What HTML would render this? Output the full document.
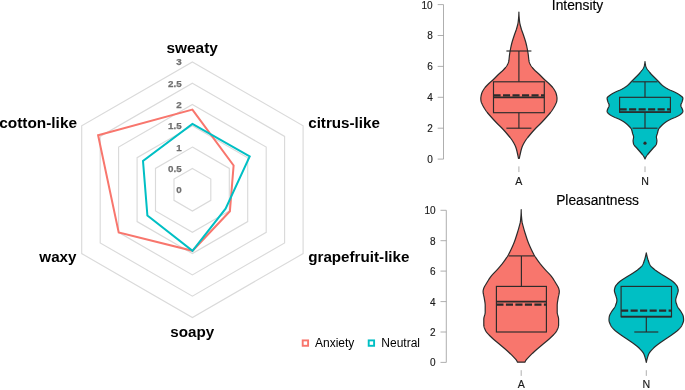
<!DOCTYPE html>
<html lang="en"><head><meta charset="utf-8"><title>Odor ratings</title>
<style>
html,body{margin:0;padding:0;background:#fff;}
body{width:685px;height:390px;overflow:hidden;font-family:"Liberation Sans",sans-serif;}
svg{display:block;}
.lab{font-family:"Liberation Sans",sans-serif;font-weight:bold;font-size:15.2px;fill:#000;}
.num{font-family:"Liberation Sans",sans-serif;font-weight:bold;font-size:9.8px;fill:#707070;stroke:#707070;stroke-width:0.25px;text-anchor:end;}
.leg{font-family:"Liberation Sans",sans-serif;font-size:12px;fill:#000;}
.ttl{font-family:"Liberation Sans",sans-serif;font-size:13.8px;fill:#000;text-anchor:middle;stroke:#000;stroke-width:0.15px;}
.ax{font-family:"Liberation Sans",sans-serif;font-size:10px;fill:#1a1a1a;stroke:#1a1a1a;stroke-width:0.15px;}
</style></head><body>
<svg width="685" height="390" viewBox="0 0 685 390">
<rect width="685" height="390" fill="#ffffff"/>
<g fill="none" stroke="#dadada" stroke-width="1.15">
<polygon points="192.4,168.4 210.8,179.0 210.8,200.3 192.4,211.0 174.0,200.3 174.0,179.0"/>
<polygon points="192.4,147.1 229.3,168.4 229.3,211.0 192.4,232.3 155.5,211.0 155.5,168.4"/>
<polygon points="192.4,125.8 247.7,157.8 247.7,221.6 192.4,253.6 137.1,221.6 137.1,157.7"/>
<polygon points="192.4,104.5 266.2,147.1 266.2,232.3 192.4,274.9 118.6,232.3 118.6,147.1"/>
<polygon points="192.4,83.2 284.6,136.4 284.6,242.9 192.4,296.2 100.2,242.9 100.2,136.4"/>
<polygon points="192.4,61.9 303.1,125.8 303.1,253.6 192.4,317.5 81.7,253.6 81.7,125.8"/>
</g>
<text class="num" x="181.6" y="193.1">0</text>
<text class="num" x="181.6" y="171.8">0.5</text>
<text class="num" x="181.6" y="150.5">1</text>
<text class="num" x="181.6" y="129.2">1.5</text>
<text class="num" x="181.6" y="107.9">2</text>
<text class="num" x="181.6" y="86.6">2.5</text>
<text class="num" x="181.6" y="65.3">3</text>
<polygon fill="none" stroke="#F8766D" stroke-width="2.0" stroke-linejoin="miter" points="192.4,109.6 233.6,165.5 229.9,211.2 192.5,250.8 118.7,232.4 98.1,135.3"/>
<polygon fill="none" stroke="#00BFC4" stroke-width="2.0" stroke-linejoin="miter" points="192.4,123.9 249.7,156.5 225.6,208.6 192.5,250.8 147.4,215.5 143.0,161.0"/>
<text class="lab" style="font-size:15.4px" x="192.2" y="52.8" text-anchor="middle">sweaty</text>
<text class="lab" x="308.2" y="128.1">citrus-like</text>
<text class="lab" x="308.2" y="261.6">grapefruit-like</text>
<text class="lab" x="192.2" y="336.6" text-anchor="middle">soapy</text>
<text class="lab" x="76.5" y="261.6" text-anchor="end">waxy</text>
<text class="lab" style="font-size:15.4px" x="77.0" y="128.1" text-anchor="end">cotton-like</text>
<rect x="302.7" y="340.4" width="5.4" height="5.4" fill="#fff" stroke="#F8766D" stroke-width="1.9"/>
<text class="leg" x="315" y="346.7">Anxiety</text>
<rect x="368.7" y="340.4" width="5.4" height="5.4" fill="#fff" stroke="#00BFC4" stroke-width="1.9"/>
<text class="leg" x="381.3" y="346.7">Neutral</text>
<g stroke="#9a9a9a" stroke-width="0.8" fill="none">
<line x1="443.5" y1="4.6" x2="443.5" y2="159.1"/>
<line x1="437.7" y1="159.1" x2="443.5" y2="159.1"/>
<line x1="437.7" y1="128.2" x2="443.5" y2="128.2"/>
<line x1="437.7" y1="97.3" x2="443.5" y2="97.3"/>
<line x1="437.7" y1="66.4" x2="443.5" y2="66.4"/>
<line x1="437.7" y1="35.5" x2="443.5" y2="35.5"/>
<line x1="437.7" y1="4.6" x2="443.5" y2="4.6"/>
</g>
<text class="ax" text-anchor="end" x="432.7" y="163.0">0</text>
<text class="ax" text-anchor="end" x="432.7" y="132.1">2</text>
<text class="ax" text-anchor="end" x="432.7" y="101.2">4</text>
<text class="ax" text-anchor="end" x="432.7" y="70.3">6</text>
<text class="ax" text-anchor="end" x="432.7" y="39.4">8</text>
<text class="ax" text-anchor="end" x="432.7" y="8.5">10</text>
<text class="ttl" x="577.5" y="9.6">Intensity</text>
<path d="M518.90,12.00 L518.90,12.50 L518.89,13.00 L518.88,13.50 L518.86,14.00 L518.84,14.50 L518.82,15.00 L518.79,15.50 L518.75,16.00 L518.72,16.50 L518.68,17.00 L518.64,17.50 L518.60,18.00 L518.55,18.50 L518.50,19.00 L518.45,19.50 L518.40,20.00 L518.34,20.50 L518.29,21.00 L518.23,21.50 L518.18,22.00 L518.11,22.50 L518.03,23.00 L517.93,23.50 L517.83,24.00 L517.72,24.50 L517.60,25.00 L517.47,25.50 L517.34,26.00 L517.20,26.50 L517.06,27.00 L516.92,27.50 L516.78,28.00 L516.64,28.50 L516.49,29.00 L516.34,29.50 L516.17,30.00 L515.99,30.50 L515.81,31.00 L515.63,31.50 L515.44,32.00 L515.26,32.50 L515.07,33.00 L514.89,33.50 L514.71,34.00 L514.53,34.50 L514.37,35.00 L514.20,35.50 L514.04,36.00 L513.87,36.50 L513.70,37.00 L513.54,37.50 L513.37,38.00 L513.21,38.50 L513.04,39.00 L512.88,39.50 L512.73,40.00 L512.57,40.50 L512.42,41.00 L512.27,41.50 L512.13,42.00 L511.99,42.50 L511.85,43.00 L511.73,43.50 L511.60,44.00 L511.48,44.50 L511.36,45.00 L511.25,45.50 L511.13,46.00 L511.02,46.50 L510.92,47.00 L510.81,47.50 L510.71,48.00 L510.61,48.50 L510.51,49.00 L510.41,49.50 L510.32,50.00 L510.23,50.50 L510.14,51.00 L510.05,51.50 L509.96,52.00 L509.87,52.50 L509.79,53.00 L509.71,53.50 L509.64,54.00 L509.57,54.50 L509.50,55.00 L509.44,55.50 L509.39,56.00 L509.34,56.50 L509.29,57.00 L509.24,57.50 L509.19,58.00 L509.13,58.50 L509.08,59.00 L509.02,59.50 L508.96,60.00 L508.89,60.50 L508.80,61.00 L508.69,61.50 L508.55,62.00 L508.38,62.50 L508.19,63.00 L507.98,63.50 L507.75,64.00 L507.50,64.50 L507.25,65.00 L506.98,65.50 L506.67,66.00 L506.32,66.50 L505.94,67.00 L505.54,67.50 L505.12,68.00 L504.68,68.50 L504.24,69.00 L503.78,69.50 L503.32,70.00 L502.82,70.50 L502.30,71.00 L501.75,71.50 L501.18,72.00 L500.61,72.50 L500.04,73.00 L499.48,73.50 L498.92,74.00 L498.40,74.50 L497.88,75.00 L497.38,75.50 L496.89,76.00 L496.40,76.50 L495.91,77.00 L495.42,77.50 L494.93,78.00 L494.43,78.50 L493.92,79.00 L493.40,79.50 L492.86,80.00 L492.31,80.50 L491.74,81.00 L491.16,81.50 L490.58,82.00 L490.01,82.50 L489.45,83.00 L488.91,83.50 L488.40,84.00 L487.90,84.50 L487.41,85.00 L486.92,85.50 L486.43,86.00 L485.96,86.50 L485.51,87.00 L485.09,87.50 L484.69,88.00 L484.33,88.50 L484.01,89.00 L483.68,89.50 L483.37,90.00 L483.07,90.50 L482.78,91.00 L482.51,91.50 L482.27,92.00 L482.04,92.50 L481.85,93.00 L481.68,93.50 L481.55,94.00 L481.42,94.50 L481.30,95.00 L481.19,95.50 L481.08,96.00 L480.99,96.50 L480.91,97.00 L480.85,97.50 L480.81,98.00 L480.80,98.50 L480.81,99.00 L480.84,99.50 L480.88,100.00 L480.94,100.50 L481.00,101.00 L481.10,101.50 L481.25,102.00 L481.44,102.50 L481.65,103.00 L481.88,103.50 L482.10,104.00 L482.32,104.50 L482.56,105.00 L482.81,105.50 L483.06,106.00 L483.33,106.50 L483.61,107.00 L483.90,107.50 L484.20,108.00 L484.50,108.50 L484.82,109.00 L485.14,109.50 L485.47,110.00 L485.80,110.50 L486.15,111.00 L486.51,111.50 L486.90,112.00 L487.29,112.50 L487.70,113.00 L488.12,113.50 L488.55,114.00 L488.99,114.50 L489.43,115.00 L489.87,115.50 L490.32,116.00 L490.76,116.50 L491.20,117.00 L491.64,117.50 L492.08,118.00 L492.53,118.50 L492.98,119.00 L493.43,119.50 L493.89,120.00 L494.35,120.50 L494.82,121.00 L495.29,121.50 L495.76,122.00 L496.24,122.50 L496.72,123.00 L497.20,123.50 L497.70,124.00 L498.20,124.50 L498.72,125.00 L499.25,125.50 L499.77,126.00 L500.29,126.50 L500.81,127.00 L501.31,127.50 L501.80,128.00 L502.27,128.50 L502.74,129.00 L503.21,129.50 L503.67,130.00 L504.13,130.50 L504.58,131.00 L505.03,131.50 L505.47,132.00 L505.90,132.50 L506.34,133.00 L506.76,133.50 L507.18,134.00 L507.60,134.50 L508.01,135.00 L508.43,135.50 L508.85,136.00 L509.26,136.50 L509.67,137.00 L510.08,137.50 L510.47,138.00 L510.86,138.50 L511.24,139.00 L511.60,139.50 L511.95,140.00 L512.28,140.50 L512.60,141.00 L512.90,141.50 L513.20,142.00 L513.50,142.50 L513.79,143.00 L514.07,143.50 L514.34,144.00 L514.60,144.50 L514.85,145.00 L515.09,145.50 L515.31,146.00 L515.52,146.50 L515.72,147.00 L515.90,147.50 L516.07,148.00 L516.22,148.50 L516.37,149.00 L516.51,149.50 L516.65,150.00 L516.77,150.50 L516.90,151.00 L517.02,151.50 L517.13,152.00 L517.24,152.50 L517.36,153.00 L517.47,153.50 L517.58,154.00 L517.69,154.50 L517.80,155.00 L517.90,155.50 L518.01,156.00 L518.11,156.50 L518.20,157.00 L518.30,157.50 L518.39,158.00 L518.48,158.50 L519.32,158.50 L519.41,158.00 L519.50,157.50 L519.60,157.00 L519.69,156.50 L519.79,156.00 L519.90,155.50 L520.00,155.00 L520.11,154.50 L520.22,154.00 L520.33,153.50 L520.44,153.00 L520.56,152.50 L520.67,152.00 L520.78,151.50 L520.90,151.00 L521.03,150.50 L521.15,150.00 L521.29,149.50 L521.43,149.00 L521.58,148.50 L521.73,148.00 L521.90,147.50 L522.08,147.00 L522.28,146.50 L522.49,146.00 L522.71,145.50 L522.95,145.00 L523.20,144.50 L523.46,144.00 L523.73,143.50 L524.01,143.00 L524.30,142.50 L524.60,142.00 L524.90,141.50 L525.20,141.00 L525.52,140.50 L525.85,140.00 L526.20,139.50 L526.56,139.00 L526.94,138.50 L527.33,138.00 L527.72,137.50 L528.13,137.00 L528.54,136.50 L528.95,136.00 L529.37,135.50 L529.79,135.00 L530.20,134.50 L530.62,134.00 L531.04,133.50 L531.46,133.00 L531.90,132.50 L532.33,132.00 L532.77,131.50 L533.22,131.00 L533.67,130.50 L534.13,130.00 L534.59,129.50 L535.06,129.00 L535.53,128.50 L536.00,128.00 L536.49,127.50 L536.99,127.00 L537.51,126.50 L538.03,126.00 L538.55,125.50 L539.08,125.00 L539.60,124.50 L540.10,124.00 L540.60,123.50 L541.08,123.00 L541.56,122.50 L542.04,122.00 L542.51,121.50 L542.98,121.00 L543.45,120.50 L543.91,120.00 L544.37,119.50 L544.82,119.00 L545.27,118.50 L545.72,118.00 L546.16,117.50 L546.60,117.00 L547.04,116.50 L547.48,116.00 L547.93,115.50 L548.37,115.00 L548.81,114.50 L549.25,114.00 L549.68,113.50 L550.10,113.00 L550.51,112.50 L550.90,112.00 L551.29,111.50 L551.65,111.00 L552.00,110.50 L552.33,110.00 L552.66,109.50 L552.98,109.00 L553.30,108.50 L553.60,108.00 L553.90,107.50 L554.19,107.00 L554.47,106.50 L554.74,106.00 L554.99,105.50 L555.24,105.00 L555.48,104.50 L555.70,104.00 L555.92,103.50 L556.15,103.00 L556.36,102.50 L556.55,102.00 L556.70,101.50 L556.80,101.00 L556.86,100.50 L556.92,100.00 L556.96,99.50 L556.99,99.00 L557.00,98.50 L556.99,98.00 L556.95,97.50 L556.89,97.00 L556.81,96.50 L556.72,96.00 L556.61,95.50 L556.50,95.00 L556.38,94.50 L556.25,94.00 L556.12,93.50 L555.95,93.00 L555.76,92.50 L555.53,92.00 L555.29,91.50 L555.02,91.00 L554.73,90.50 L554.43,90.00 L554.12,89.50 L553.79,89.00 L553.47,88.50 L553.11,88.00 L552.71,87.50 L552.29,87.00 L551.84,86.50 L551.37,86.00 L550.88,85.50 L550.39,85.00 L549.90,84.50 L549.40,84.00 L548.89,83.50 L548.35,83.00 L547.79,82.50 L547.22,82.00 L546.64,81.50 L546.06,81.00 L545.49,80.50 L544.94,80.00 L544.40,79.50 L543.88,79.00 L543.37,78.50 L542.87,78.00 L542.38,77.50 L541.89,77.00 L541.40,76.50 L540.91,76.00 L540.42,75.50 L539.92,75.00 L539.40,74.50 L538.88,74.00 L538.32,73.50 L537.76,73.00 L537.19,72.50 L536.62,72.00 L536.05,71.50 L535.50,71.00 L534.98,70.50 L534.48,70.00 L534.02,69.50 L533.56,69.00 L533.12,68.50 L532.68,68.00 L532.26,67.50 L531.86,67.00 L531.48,66.50 L531.13,66.00 L530.82,65.50 L530.55,65.00 L530.30,64.50 L530.05,64.00 L529.82,63.50 L529.61,63.00 L529.42,62.50 L529.25,62.00 L529.11,61.50 L529.00,61.00 L528.91,60.50 L528.84,60.00 L528.78,59.50 L528.72,59.00 L528.67,58.50 L528.61,58.00 L528.56,57.50 L528.51,57.00 L528.46,56.50 L528.41,56.00 L528.36,55.50 L528.30,55.00 L528.23,54.50 L528.16,54.00 L528.09,53.50 L528.01,53.00 L527.93,52.50 L527.84,52.00 L527.75,51.50 L527.66,51.00 L527.57,50.50 L527.48,50.00 L527.39,49.50 L527.29,49.00 L527.19,48.50 L527.09,48.00 L526.99,47.50 L526.88,47.00 L526.78,46.50 L526.67,46.00 L526.55,45.50 L526.44,45.00 L526.32,44.50 L526.20,44.00 L526.07,43.50 L525.95,43.00 L525.81,42.50 L525.67,42.00 L525.53,41.50 L525.38,41.00 L525.23,40.50 L525.07,40.00 L524.92,39.50 L524.76,39.00 L524.59,38.50 L524.43,38.00 L524.26,37.50 L524.10,37.00 L523.93,36.50 L523.76,36.00 L523.60,35.50 L523.43,35.00 L523.27,34.50 L523.09,34.00 L522.91,33.50 L522.73,33.00 L522.54,32.50 L522.36,32.00 L522.17,31.50 L521.99,31.00 L521.81,30.50 L521.63,30.00 L521.46,29.50 L521.31,29.00 L521.16,28.50 L521.02,28.00 L520.88,27.50 L520.74,27.00 L520.60,26.50 L520.46,26.00 L520.33,25.50 L520.20,25.00 L520.08,24.50 L519.97,24.00 L519.87,23.50 L519.77,23.00 L519.69,22.50 L519.62,22.00 L519.57,21.50 L519.51,21.00 L519.46,20.50 L519.40,20.00 L519.35,19.50 L519.30,19.00 L519.25,18.50 L519.20,18.00 L519.16,17.50 L519.12,17.00 L519.08,16.50 L519.05,16.00 L519.01,15.50 L518.98,15.00 L518.96,14.50 L518.94,14.00 L518.92,13.50 L518.91,13.00 L518.90,12.50 L518.90,12.00Z" fill="#F8766D" stroke="#2b2b2b" stroke-width="1.2" stroke-linejoin="round"/>
<g stroke="#2b2b2b" fill="none" stroke-width="1.15">
<rect x="493.5" y="81.8" width="50.8" height="30.9"/>
<line x1="518.9" y1="51.0" x2="518.9" y2="81.8"/>
<line x1="506.4" y1="51.0" x2="531.4" y2="51.0"/>
<line x1="518.9" y1="112.8" x2="518.9" y2="128.2"/>
<line x1="506.4" y1="128.2" x2="531.4" y2="128.2"/>
<line x1="493.5" y1="97.3" x2="544.3" y2="97.3" stroke-width="1.8"/>
<line x1="493.5" y1="95.3" x2="544.3" y2="95.3" stroke-width="2.2" stroke-dasharray="7.1,2.4"/>
</g>
<path d="M645.00,61.50 L644.98,62.00 L644.93,62.50 L644.87,63.00 L644.79,63.50 L644.70,64.00 L644.60,64.50 L644.49,65.00 L644.38,65.50 L644.24,66.00 L644.08,66.50 L643.89,67.00 L643.68,67.50 L643.45,68.00 L643.20,68.50 L642.91,69.00 L642.58,69.50 L642.20,70.00 L641.80,70.50 L641.40,71.00 L641.00,71.50 L640.61,72.00 L640.21,72.50 L639.80,73.00 L639.38,73.50 L638.95,74.00 L638.50,74.50 L638.03,75.00 L637.54,75.50 L637.03,76.00 L636.52,76.50 L636.01,77.00 L635.50,77.50 L635.00,78.00 L634.50,78.50 L634.00,79.00 L633.50,79.50 L633.00,80.00 L632.50,80.50 L632.00,81.00 L631.51,81.50 L631.04,82.00 L630.58,82.50 L630.11,83.00 L629.64,83.50 L629.14,84.00 L628.62,84.50 L628.07,85.00 L627.48,85.50 L626.84,86.00 L626.16,86.50 L625.44,87.00 L624.69,87.50 L623.89,88.00 L623.04,88.50 L622.16,89.00 L621.22,89.50 L620.13,90.00 L618.95,90.50 L617.74,91.00 L616.57,91.50 L615.50,92.00 L614.52,92.50 L613.56,93.00 L612.64,93.50 L611.78,94.00 L610.99,94.50 L610.30,95.00 L609.64,95.50 L608.96,96.00 L608.31,96.50 L607.75,97.00 L607.34,97.50 L607.12,98.00 L607.11,98.50 L607.16,99.00 L607.26,99.50 L607.39,100.00 L607.53,100.50 L607.69,101.00 L607.85,101.50 L608.00,102.00 L608.18,102.50 L608.40,103.00 L608.65,103.50 L608.88,104.00 L609.06,104.50 L609.18,105.00 L609.19,105.50 L609.10,106.00 L608.93,106.50 L608.70,107.00 L608.44,107.50 L608.18,108.00 L607.94,108.50 L607.73,109.00 L607.56,109.50 L607.38,110.00 L607.22,110.50 L607.12,111.00 L607.12,111.50 L607.27,112.00 L607.50,112.50 L607.87,113.00 L608.38,113.50 L608.97,114.00 L609.60,114.50 L610.30,115.00 L611.12,115.50 L612.02,116.00 L612.99,116.50 L614.00,117.00 L615.10,117.50 L616.34,118.00 L617.60,118.50 L618.78,119.00 L619.80,119.50 L620.76,120.00 L621.68,120.50 L622.55,121.00 L623.36,121.50 L624.12,122.00 L624.81,122.50 L625.47,123.00 L626.10,123.50 L626.70,124.00 L627.26,124.50 L627.80,125.00 L628.31,125.50 L628.80,126.00 L629.28,126.50 L629.76,127.00 L630.22,127.50 L630.64,128.00 L631.01,128.50 L631.30,129.00 L631.53,129.50 L631.71,130.00 L631.87,130.50 L632.02,131.00 L632.15,131.50 L632.27,132.00 L632.39,132.50 L632.51,133.00 L632.64,133.50 L632.79,134.00 L632.97,134.50 L633.16,135.00 L633.33,135.50 L633.48,136.00 L633.57,136.50 L633.60,137.00 L633.57,137.50 L633.50,138.00 L633.42,138.50 L633.32,139.00 L633.23,139.50 L633.15,140.00 L633.11,140.50 L633.10,141.00 L633.13,141.50 L633.19,142.00 L633.27,142.50 L633.36,143.00 L633.48,143.50 L633.60,144.00 L633.78,144.50 L634.06,145.00 L634.42,145.50 L634.85,146.00 L635.31,146.50 L635.80,147.00 L636.29,147.50 L636.76,148.00 L637.20,148.50 L637.62,149.00 L638.05,149.50 L638.49,150.00 L638.93,150.50 L639.37,151.00 L639.81,151.50 L640.24,152.00 L640.67,152.50 L641.08,153.00 L641.50,153.50 L641.93,154.00 L642.35,154.50 L642.75,155.00 L643.13,155.50 L643.47,156.00 L643.78,156.50 L644.07,157.00 L644.33,157.50 L644.58,158.00 L644.80,158.50 L645.00,159.00 L645.00,159.00 L645.20,158.50 L645.42,158.00 L645.67,157.50 L645.93,157.00 L646.22,156.50 L646.53,156.00 L646.87,155.50 L647.25,155.00 L647.65,154.50 L648.07,154.00 L648.50,153.50 L648.92,153.00 L649.33,152.50 L649.76,152.00 L650.19,151.50 L650.63,151.00 L651.07,150.50 L651.51,150.00 L651.95,149.50 L652.38,149.00 L652.80,148.50 L653.24,148.00 L653.71,147.50 L654.20,147.00 L654.69,146.50 L655.15,146.00 L655.58,145.50 L655.94,145.00 L656.22,144.50 L656.40,144.00 L656.52,143.50 L656.64,143.00 L656.73,142.50 L656.81,142.00 L656.87,141.50 L656.90,141.00 L656.89,140.50 L656.85,140.00 L656.77,139.50 L656.68,139.00 L656.58,138.50 L656.50,138.00 L656.43,137.50 L656.40,137.00 L656.43,136.50 L656.52,136.00 L656.67,135.50 L656.84,135.00 L657.03,134.50 L657.21,134.00 L657.36,133.50 L657.49,133.00 L657.61,132.50 L657.73,132.00 L657.85,131.50 L657.98,131.00 L658.13,130.50 L658.29,130.00 L658.47,129.50 L658.70,129.00 L658.99,128.50 L659.36,128.00 L659.78,127.50 L660.24,127.00 L660.72,126.50 L661.20,126.00 L661.69,125.50 L662.20,125.00 L662.74,124.50 L663.30,124.00 L663.90,123.50 L664.53,123.00 L665.19,122.50 L665.88,122.00 L666.64,121.50 L667.45,121.00 L668.32,120.50 L669.24,120.00 L670.20,119.50 L671.22,119.00 L672.40,118.50 L673.66,118.00 L674.90,117.50 L676.00,117.00 L677.01,116.50 L677.98,116.00 L678.88,115.50 L679.70,115.00 L680.40,114.50 L681.03,114.00 L681.62,113.50 L682.13,113.00 L682.50,112.50 L682.73,112.00 L682.88,111.50 L682.88,111.00 L682.78,110.50 L682.62,110.00 L682.44,109.50 L682.27,109.00 L682.06,108.50 L681.82,108.00 L681.56,107.50 L681.30,107.00 L681.07,106.50 L680.90,106.00 L680.81,105.50 L680.82,105.00 L680.94,104.50 L681.12,104.00 L681.35,103.50 L681.60,103.00 L681.82,102.50 L682.00,102.00 L682.15,101.50 L682.31,101.00 L682.47,100.50 L682.61,100.00 L682.74,99.50 L682.84,99.00 L682.89,98.50 L682.88,98.00 L682.66,97.50 L682.25,97.00 L681.69,96.50 L681.04,96.00 L680.36,95.50 L679.70,95.00 L679.01,94.50 L678.22,94.00 L677.36,93.50 L676.44,93.00 L675.48,92.50 L674.50,92.00 L673.43,91.50 L672.26,91.00 L671.05,90.50 L669.87,90.00 L668.78,89.50 L667.84,89.00 L666.96,88.50 L666.11,88.00 L665.31,87.50 L664.56,87.00 L663.84,86.50 L663.16,86.00 L662.52,85.50 L661.93,85.00 L661.38,84.50 L660.86,84.00 L660.36,83.50 L659.89,83.00 L659.42,82.50 L658.96,82.00 L658.49,81.50 L658.00,81.00 L657.50,80.50 L657.00,80.00 L656.50,79.50 L656.00,79.00 L655.50,78.50 L655.00,78.00 L654.50,77.50 L653.99,77.00 L653.48,76.50 L652.97,76.00 L652.46,75.50 L651.97,75.00 L651.50,74.50 L651.05,74.00 L650.62,73.50 L650.20,73.00 L649.79,72.50 L649.39,72.00 L649.00,71.50 L648.60,71.00 L648.20,70.50 L647.80,70.00 L647.42,69.50 L647.09,69.00 L646.80,68.50 L646.55,68.00 L646.32,67.50 L646.11,67.00 L645.92,66.50 L645.76,66.00 L645.62,65.50 L645.51,65.00 L645.40,64.50 L645.30,64.00 L645.21,63.50 L645.13,63.00 L645.07,62.50 L645.02,62.00 L645.00,61.50Z" fill="#00BFC4" stroke="#2b2b2b" stroke-width="1.2" stroke-linejoin="round"/>
<g stroke="#2b2b2b" fill="none" stroke-width="1.15">
<rect x="619.6" y="97.3" width="50.8" height="15.0"/>
<line x1="645.0" y1="81.8" x2="645.0" y2="97.3"/>
<line x1="632.5" y1="81.8" x2="657.5" y2="81.8"/>
<line x1="645.0" y1="112.3" x2="645.0" y2="128.2"/>
<line x1="632.5" y1="128.2" x2="657.5" y2="128.2"/>
<line x1="619.6" y1="112.0" x2="670.4" y2="112.0" stroke-width="1.6"/>
<line x1="619.6" y1="109.4" x2="670.4" y2="109.4" stroke-width="2.2" stroke-dasharray="7.1,2.4"/>
</g>
<circle cx="645" cy="143.2" r="1.6" fill="#2b2b2b"/>
<line x1="518.9" y1="166.4" x2="518.9" y2="172.1" stroke="#9a9a9a" stroke-width="0.8"/>
<text class="ax" style="font-size:10.6px" text-anchor="middle" x="518.9" y="184.6">A</text>
<line x1="645.0" y1="166.4" x2="645.0" y2="172.1" stroke="#9a9a9a" stroke-width="0.8"/>
<text class="ax" style="font-size:10.6px" text-anchor="middle" x="645.0" y="184.6">N</text>
<g stroke="#9a9a9a" stroke-width="0.8" fill="none">
<line x1="446.3" y1="210.3" x2="446.3" y2="362.4"/>
<line x1="440.5" y1="362.4" x2="446.3" y2="362.4"/>
<line x1="440.5" y1="332.0" x2="446.3" y2="332.0"/>
<line x1="440.5" y1="301.6" x2="446.3" y2="301.6"/>
<line x1="440.5" y1="271.1" x2="446.3" y2="271.1"/>
<line x1="440.5" y1="240.7" x2="446.3" y2="240.7"/>
<line x1="440.5" y1="210.3" x2="446.3" y2="210.3"/>
</g>
<text class="ax" text-anchor="end" x="435.5" y="366.3">0</text>
<text class="ax" text-anchor="end" x="435.5" y="335.9">2</text>
<text class="ax" text-anchor="end" x="435.5" y="305.5">4</text>
<text class="ax" text-anchor="end" x="435.5" y="275.0">6</text>
<text class="ax" text-anchor="end" x="435.5" y="244.6">8</text>
<text class="ax" text-anchor="end" x="435.5" y="214.2">10</text>
<text class="ttl" x="597.6" y="205.2">Pleasantness</text>
<path d="M521.20,209.70 L521.20,210.20 L521.19,210.70 L521.18,211.20 L521.17,211.70 L521.15,212.20 L521.14,212.70 L521.11,213.20 L521.09,213.70 L521.06,214.20 L521.03,214.70 L521.00,215.20 L520.96,215.70 L520.92,216.20 L520.89,216.70 L520.84,217.20 L520.80,217.70 L520.76,218.20 L520.71,218.70 L520.66,219.20 L520.61,219.70 L520.56,220.20 L520.51,220.70 L520.45,221.20 L520.38,221.70 L520.30,222.20 L520.20,222.70 L520.09,223.20 L519.97,223.70 L519.85,224.20 L519.72,224.70 L519.59,225.20 L519.45,225.70 L519.31,226.20 L519.17,226.70 L519.03,227.20 L518.90,227.70 L518.77,228.20 L518.63,228.70 L518.48,229.20 L518.34,229.70 L518.19,230.20 L518.04,230.70 L517.88,231.20 L517.73,231.70 L517.57,232.20 L517.41,232.70 L517.25,233.20 L517.09,233.70 L516.93,234.20 L516.77,234.70 L516.61,235.20 L516.45,235.70 L516.29,236.20 L516.13,236.70 L515.97,237.20 L515.81,237.70 L515.65,238.20 L515.48,238.70 L515.32,239.20 L515.15,239.70 L514.97,240.20 L514.79,240.70 L514.61,241.20 L514.42,241.70 L514.23,242.20 L514.04,242.70 L513.84,243.20 L513.63,243.70 L513.42,244.20 L513.21,244.70 L512.99,245.20 L512.77,245.70 L512.55,246.20 L512.33,246.70 L512.10,247.20 L511.87,247.70 L511.64,248.20 L511.41,248.70 L511.17,249.20 L510.94,249.70 L510.70,250.20 L510.46,250.70 L510.22,251.20 L509.97,251.70 L509.72,252.20 L509.47,252.70 L509.21,253.20 L508.94,253.70 L508.67,254.20 L508.40,254.70 L508.11,255.20 L507.83,255.70 L507.53,256.20 L507.23,256.70 L506.91,257.20 L506.60,257.70 L506.27,258.20 L505.94,258.70 L505.60,259.20 L505.26,259.70 L504.91,260.20 L504.56,260.70 L504.20,261.20 L503.84,261.70 L503.47,262.20 L503.10,262.70 L502.72,263.20 L502.33,263.70 L501.94,264.20 L501.53,264.70 L501.12,265.20 L500.71,265.70 L500.29,266.20 L499.87,266.70 L499.44,267.20 L499.01,267.70 L498.57,268.20 L498.14,268.70 L497.70,269.20 L497.25,269.70 L496.79,270.20 L496.32,270.70 L495.84,271.20 L495.35,271.70 L494.86,272.20 L494.36,272.70 L493.88,273.20 L493.39,273.70 L492.92,274.20 L492.47,274.70 L492.02,275.20 L491.60,275.70 L491.20,276.20 L490.82,276.70 L490.44,277.20 L490.08,277.70 L489.72,278.20 L489.38,278.70 L489.04,279.20 L488.70,279.70 L488.38,280.20 L488.06,280.70 L487.74,281.20 L487.44,281.70 L487.13,282.20 L486.84,282.70 L486.54,283.20 L486.24,283.70 L485.93,284.20 L485.62,284.70 L485.31,285.20 L485.01,285.70 L484.72,286.20 L484.45,286.70 L484.20,287.20 L483.98,287.70 L483.78,288.20 L483.63,288.70 L483.50,289.20 L483.37,289.70 L483.25,290.20 L483.16,290.70 L483.11,291.20 L483.10,291.70 L483.12,292.20 L483.17,292.70 L483.23,293.20 L483.31,293.70 L483.40,294.20 L483.51,294.70 L483.61,295.20 L483.73,295.70 L483.84,296.20 L483.96,296.70 L484.06,297.20 L484.16,297.70 L484.25,298.20 L484.33,298.70 L484.41,299.20 L484.49,299.70 L484.58,300.20 L484.67,300.70 L484.75,301.20 L484.84,301.70 L484.92,302.20 L484.99,302.70 L485.05,303.20 L485.11,303.70 L485.15,304.20 L485.18,304.70 L485.20,305.20 L485.20,305.70 L485.20,306.20 L485.20,306.70 L485.20,307.20 L485.20,307.70 L485.20,308.20 L485.20,308.70 L485.20,309.20 L485.20,309.70 L485.20,310.20 L485.20,310.70 L485.20,311.20 L485.20,311.70 L485.20,312.20 L485.19,312.70 L485.13,313.20 L485.05,313.70 L484.94,314.20 L484.81,314.70 L484.67,315.20 L484.52,315.70 L484.36,316.20 L484.22,316.70 L484.08,317.20 L483.97,317.70 L483.88,318.20 L483.82,318.70 L483.80,319.20 L483.80,319.70 L483.80,320.20 L483.80,320.70 L483.80,321.20 L483.80,321.70 L483.80,322.20 L483.80,322.70 L483.80,323.20 L483.80,323.70 L483.80,324.20 L483.80,324.70 L483.80,325.20 L483.84,325.70 L483.92,326.20 L484.03,326.70 L484.17,327.20 L484.33,327.70 L484.52,328.20 L484.73,328.70 L484.95,329.20 L485.18,329.70 L485.41,330.20 L485.65,330.70 L485.91,331.20 L486.21,331.70 L486.55,332.20 L486.94,332.70 L487.36,333.20 L487.81,333.70 L488.28,334.20 L488.78,334.70 L489.29,335.20 L489.81,335.70 L490.33,336.20 L490.86,336.70 L491.39,337.20 L491.90,337.70 L492.42,338.20 L492.96,338.70 L493.52,339.20 L494.09,339.70 L494.68,340.20 L495.28,340.70 L495.88,341.20 L496.49,341.70 L497.11,342.20 L497.72,342.70 L498.33,343.20 L498.93,343.70 L499.53,344.20 L500.12,344.70 L500.70,345.20 L501.29,345.70 L501.89,346.20 L502.48,346.70 L503.08,347.20 L503.67,347.70 L504.26,348.20 L504.85,348.70 L505.43,349.20 L506.00,349.70 L506.57,350.20 L507.13,350.70 L507.68,351.20 L508.21,351.70 L508.74,352.20 L509.27,352.70 L509.79,353.20 L510.30,353.70 L510.80,354.20 L511.30,354.70 L511.80,355.20 L512.28,355.70 L512.76,356.20 L513.24,356.70 L513.71,357.20 L514.18,357.70 L514.65,358.20 L515.13,358.70 L515.58,359.20 L516.01,359.70 L516.40,360.20 L516.73,360.70 L517.02,361.20 L517.29,361.70 L517.52,362.20 L524.88,362.20 L525.11,361.70 L525.38,361.20 L525.67,360.70 L526.00,360.20 L526.39,359.70 L526.82,359.20 L527.27,358.70 L527.75,358.20 L528.22,357.70 L528.69,357.20 L529.16,356.70 L529.64,356.20 L530.12,355.70 L530.60,355.20 L531.10,354.70 L531.60,354.20 L532.10,353.70 L532.61,353.20 L533.13,352.70 L533.66,352.20 L534.19,351.70 L534.72,351.20 L535.27,350.70 L535.83,350.20 L536.40,349.70 L536.97,349.20 L537.55,348.70 L538.14,348.20 L538.73,347.70 L539.32,347.20 L539.92,346.70 L540.51,346.20 L541.11,345.70 L541.70,345.20 L542.28,344.70 L542.87,344.20 L543.47,343.70 L544.07,343.20 L544.68,342.70 L545.29,342.20 L545.91,341.70 L546.52,341.20 L547.12,340.70 L547.72,340.20 L548.31,339.70 L548.88,339.20 L549.44,338.70 L549.98,338.20 L550.50,337.70 L551.01,337.20 L551.54,336.70 L552.07,336.20 L552.59,335.70 L553.11,335.20 L553.62,334.70 L554.12,334.20 L554.59,333.70 L555.04,333.20 L555.46,332.70 L555.85,332.20 L556.19,331.70 L556.49,331.20 L556.75,330.70 L556.99,330.20 L557.22,329.70 L557.45,329.20 L557.67,328.70 L557.88,328.20 L558.07,327.70 L558.23,327.20 L558.37,326.70 L558.48,326.20 L558.56,325.70 L558.60,325.20 L558.60,324.70 L558.60,324.20 L558.60,323.70 L558.60,323.20 L558.60,322.70 L558.60,322.20 L558.60,321.70 L558.60,321.20 L558.60,320.70 L558.60,320.20 L558.60,319.70 L558.60,319.20 L558.58,318.70 L558.52,318.20 L558.43,317.70 L558.32,317.20 L558.18,316.70 L558.04,316.20 L557.88,315.70 L557.73,315.20 L557.59,314.70 L557.46,314.20 L557.35,313.70 L557.27,313.20 L557.21,312.70 L557.20,312.20 L557.20,311.70 L557.20,311.20 L557.20,310.70 L557.20,310.20 L557.20,309.70 L557.20,309.20 L557.20,308.70 L557.20,308.20 L557.20,307.70 L557.20,307.20 L557.20,306.70 L557.20,306.20 L557.20,305.70 L557.20,305.20 L557.22,304.70 L557.25,304.20 L557.29,303.70 L557.35,303.20 L557.41,302.70 L557.48,302.20 L557.56,301.70 L557.65,301.20 L557.73,300.70 L557.82,300.20 L557.91,299.70 L557.99,299.20 L558.07,298.70 L558.15,298.20 L558.24,297.70 L558.34,297.20 L558.44,296.70 L558.56,296.20 L558.67,295.70 L558.79,295.20 L558.89,294.70 L559.00,294.20 L559.09,293.70 L559.17,293.20 L559.23,292.70 L559.28,292.20 L559.30,291.70 L559.29,291.20 L559.24,290.70 L559.15,290.20 L559.03,289.70 L558.90,289.20 L558.77,288.70 L558.62,288.20 L558.42,287.70 L558.20,287.20 L557.95,286.70 L557.68,286.20 L557.39,285.70 L557.09,285.20 L556.78,284.70 L556.47,284.20 L556.16,283.70 L555.86,283.20 L555.56,282.70 L555.27,282.20 L554.96,281.70 L554.66,281.20 L554.34,280.70 L554.02,280.20 L553.70,279.70 L553.36,279.20 L553.02,278.70 L552.68,278.20 L552.32,277.70 L551.96,277.20 L551.58,276.70 L551.20,276.20 L550.80,275.70 L550.38,275.20 L549.93,274.70 L549.48,274.20 L549.01,273.70 L548.52,273.20 L548.04,272.70 L547.54,272.20 L547.05,271.70 L546.56,271.20 L546.08,270.70 L545.61,270.20 L545.15,269.70 L544.70,269.20 L544.26,268.70 L543.83,268.20 L543.39,267.70 L542.96,267.20 L542.53,266.70 L542.11,266.20 L541.69,265.70 L541.28,265.20 L540.87,264.70 L540.46,264.20 L540.07,263.70 L539.68,263.20 L539.30,262.70 L538.93,262.20 L538.56,261.70 L538.20,261.20 L537.84,260.70 L537.49,260.20 L537.14,259.70 L536.80,259.20 L536.46,258.70 L536.13,258.20 L535.80,257.70 L535.49,257.20 L535.17,256.70 L534.87,256.20 L534.57,255.70 L534.29,255.20 L534.00,254.70 L533.73,254.20 L533.46,253.70 L533.19,253.20 L532.93,252.70 L532.68,252.20 L532.43,251.70 L532.18,251.20 L531.94,250.70 L531.70,250.20 L531.46,249.70 L531.23,249.20 L530.99,248.70 L530.76,248.20 L530.53,247.70 L530.30,247.20 L530.07,246.70 L529.85,246.20 L529.63,245.70 L529.41,245.20 L529.19,244.70 L528.98,244.20 L528.77,243.70 L528.56,243.20 L528.36,242.70 L528.17,242.20 L527.98,241.70 L527.79,241.20 L527.61,240.70 L527.43,240.20 L527.25,239.70 L527.08,239.20 L526.92,238.70 L526.75,238.20 L526.59,237.70 L526.43,237.20 L526.27,236.70 L526.11,236.20 L525.95,235.70 L525.79,235.20 L525.63,234.70 L525.47,234.20 L525.31,233.70 L525.15,233.20 L524.99,232.70 L524.83,232.20 L524.67,231.70 L524.52,231.20 L524.36,230.70 L524.21,230.20 L524.06,229.70 L523.92,229.20 L523.77,228.70 L523.63,228.20 L523.50,227.70 L523.37,227.20 L523.23,226.70 L523.09,226.20 L522.95,225.70 L522.81,225.20 L522.68,224.70 L522.55,224.20 L522.43,223.70 L522.31,223.20 L522.20,222.70 L522.10,222.20 L522.02,221.70 L521.95,221.20 L521.89,220.70 L521.84,220.20 L521.79,219.70 L521.74,219.20 L521.69,218.70 L521.64,218.20 L521.60,217.70 L521.56,217.20 L521.51,216.70 L521.48,216.20 L521.44,215.70 L521.40,215.20 L521.37,214.70 L521.34,214.20 L521.31,213.70 L521.29,213.20 L521.26,212.70 L521.25,212.20 L521.23,211.70 L521.22,211.20 L521.21,210.70 L521.20,210.20 L521.20,209.70Z" fill="#F8766D" stroke="#2b2b2b" stroke-width="1.2" stroke-linejoin="round"/>
<g stroke="#2b2b2b" fill="none" stroke-width="1.15">
<rect x="496.4" y="286.4" width="50.0" height="45.6"/>
<line x1="521.4" y1="255.9" x2="521.4" y2="286.4"/>
<line x1="508.6" y1="255.9" x2="534.2" y2="255.9"/>
<line x1="496.4" y1="301.6" x2="546.4" y2="301.6" stroke-width="1.6"/>
<line x1="496.4" y1="304.6" x2="546.4" y2="304.6" stroke-width="2.2" stroke-dasharray="7.1,2.4"/>
</g>
<path d="M646.30,252.80 L646.20,253.30 L646.10,253.80 L645.99,254.30 L645.88,254.80 L645.76,255.30 L645.65,255.80 L645.52,256.30 L645.40,256.80 L645.28,257.30 L645.15,257.80 L645.02,258.30 L644.89,258.80 L644.75,259.30 L644.60,259.80 L644.45,260.30 L644.28,260.80 L644.11,261.30 L643.94,261.80 L643.76,262.30 L643.57,262.80 L643.37,263.30 L643.15,263.80 L642.91,264.30 L642.65,264.80 L642.36,265.30 L642.03,265.80 L641.63,266.30 L641.17,266.80 L640.66,267.30 L640.12,267.80 L639.55,268.30 L638.97,268.80 L638.38,269.30 L637.77,269.80 L637.12,270.30 L636.43,270.80 L635.72,271.30 L634.99,271.80 L634.24,272.30 L633.48,272.80 L632.71,273.30 L631.95,273.80 L631.16,274.30 L630.34,274.80 L629.50,275.30 L628.65,275.80 L627.81,276.30 L626.98,276.80 L626.17,277.30 L625.39,277.80 L624.61,278.30 L623.82,278.80 L623.03,279.30 L622.26,279.80 L621.51,280.30 L620.80,280.80 L620.14,281.30 L619.53,281.80 L618.98,282.30 L618.44,282.80 L617.91,283.30 L617.40,283.80 L616.92,284.30 L616.48,284.80 L616.08,285.30 L615.75,285.80 L615.48,286.30 L615.28,286.80 L615.09,287.30 L614.91,287.80 L614.75,288.30 L614.62,288.80 L614.51,289.30 L614.43,289.80 L614.40,290.30 L614.42,290.80 L614.49,291.30 L614.59,291.80 L614.72,292.30 L614.87,292.80 L615.02,293.30 L615.16,293.80 L615.32,294.30 L615.51,294.80 L615.70,295.30 L615.88,295.80 L616.03,296.30 L616.18,296.80 L616.33,297.30 L616.49,297.80 L616.63,298.30 L616.75,298.80 L616.84,299.30 L616.89,299.80 L616.90,300.30 L616.87,300.80 L616.81,301.30 L616.72,301.80 L616.61,302.30 L616.48,302.80 L616.33,303.30 L616.16,303.80 L615.99,304.30 L615.81,304.80 L615.62,305.30 L615.44,305.80 L615.23,306.30 L614.98,306.80 L614.68,307.30 L614.35,307.80 L613.99,308.30 L613.62,308.80 L613.24,309.30 L612.86,309.80 L612.50,310.30 L612.15,310.80 L611.83,311.30 L611.55,311.80 L611.27,312.30 L610.98,312.80 L610.69,313.30 L610.41,313.80 L610.14,314.30 L609.89,314.80 L609.67,315.30 L609.48,315.80 L609.34,316.30 L609.25,316.80 L609.19,317.30 L609.13,317.80 L609.08,318.30 L609.04,318.80 L609.02,319.30 L609.00,319.80 L609.01,320.30 L609.06,320.80 L609.15,321.30 L609.28,321.80 L609.43,322.30 L609.61,322.80 L609.81,323.30 L610.01,323.80 L610.22,324.30 L610.43,324.80 L610.69,325.30 L610.98,325.80 L611.31,326.30 L611.68,326.80 L612.07,327.30 L612.48,327.80 L612.91,328.30 L613.36,328.80 L613.82,329.30 L614.29,329.80 L614.80,330.30 L615.36,330.80 L615.95,331.30 L616.58,331.80 L617.23,332.30 L617.90,332.80 L618.58,333.30 L619.27,333.80 L619.95,334.30 L620.64,334.80 L621.33,335.30 L622.05,335.80 L622.79,336.30 L623.53,336.80 L624.29,337.30 L625.05,337.80 L625.81,338.30 L626.57,338.80 L627.32,339.30 L628.05,339.80 L628.78,340.30 L629.51,340.80 L630.25,341.30 L630.98,341.80 L631.70,342.30 L632.41,342.80 L633.12,343.30 L633.80,343.80 L634.47,344.30 L635.12,344.80 L635.77,345.30 L636.41,345.80 L637.04,346.30 L637.64,346.80 L638.23,347.30 L638.78,347.80 L639.30,348.30 L639.80,348.80 L640.29,349.30 L640.78,349.80 L641.25,350.30 L641.70,350.80 L642.13,351.30 L642.53,351.80 L642.89,352.30 L643.22,352.80 L643.50,353.30 L643.75,353.80 L643.98,354.30 L644.19,354.80 L644.38,355.30 L644.56,355.80 L644.73,356.30 L644.89,356.80 L645.04,357.30 L645.19,357.80 L645.33,358.30 L645.47,358.80 L645.61,359.30 L645.73,359.80 L645.86,360.30 L645.97,360.80 L646.08,361.30 L646.18,361.80 L646.27,362.30 L646.33,362.30 L646.42,361.80 L646.52,361.30 L646.63,360.80 L646.74,360.30 L646.87,359.80 L646.99,359.30 L647.13,358.80 L647.27,358.30 L647.41,357.80 L647.56,357.30 L647.71,356.80 L647.87,356.30 L648.04,355.80 L648.22,355.30 L648.41,354.80 L648.62,354.30 L648.85,353.80 L649.10,353.30 L649.38,352.80 L649.71,352.30 L650.07,351.80 L650.47,351.30 L650.90,350.80 L651.35,350.30 L651.82,349.80 L652.31,349.30 L652.80,348.80 L653.30,348.30 L653.82,347.80 L654.37,347.30 L654.96,346.80 L655.56,346.30 L656.19,345.80 L656.83,345.30 L657.48,344.80 L658.13,344.30 L658.80,343.80 L659.48,343.30 L660.19,342.80 L660.90,342.30 L661.62,341.80 L662.35,341.30 L663.09,340.80 L663.82,340.30 L664.55,339.80 L665.28,339.30 L666.03,338.80 L666.79,338.30 L667.55,337.80 L668.31,337.30 L669.07,336.80 L669.81,336.30 L670.55,335.80 L671.27,335.30 L671.96,334.80 L672.65,334.30 L673.33,333.80 L674.02,333.30 L674.70,332.80 L675.37,332.30 L676.02,331.80 L676.65,331.30 L677.24,330.80 L677.80,330.30 L678.31,329.80 L678.78,329.30 L679.24,328.80 L679.69,328.30 L680.12,327.80 L680.53,327.30 L680.92,326.80 L681.29,326.30 L681.62,325.80 L681.91,325.30 L682.17,324.80 L682.38,324.30 L682.59,323.80 L682.79,323.30 L682.99,322.80 L683.17,322.30 L683.32,321.80 L683.45,321.30 L683.54,320.80 L683.59,320.30 L683.60,319.80 L683.58,319.30 L683.56,318.80 L683.52,318.30 L683.47,317.80 L683.41,317.30 L683.35,316.80 L683.26,316.30 L683.12,315.80 L682.93,315.30 L682.71,314.80 L682.46,314.30 L682.19,313.80 L681.91,313.30 L681.62,312.80 L681.33,312.30 L681.05,311.80 L680.77,311.30 L680.45,310.80 L680.10,310.30 L679.74,309.80 L679.36,309.30 L678.98,308.80 L678.61,308.30 L678.25,307.80 L677.92,307.30 L677.62,306.80 L677.37,306.30 L677.16,305.80 L676.98,305.30 L676.79,304.80 L676.61,304.30 L676.44,303.80 L676.27,303.30 L676.12,302.80 L675.99,302.30 L675.88,301.80 L675.79,301.30 L675.73,300.80 L675.70,300.30 L675.71,299.80 L675.76,299.30 L675.85,298.80 L675.97,298.30 L676.11,297.80 L676.27,297.30 L676.42,296.80 L676.57,296.30 L676.72,295.80 L676.90,295.30 L677.09,294.80 L677.28,294.30 L677.44,293.80 L677.58,293.30 L677.73,292.80 L677.88,292.30 L678.01,291.80 L678.11,291.30 L678.18,290.80 L678.20,290.30 L678.17,289.80 L678.09,289.30 L677.98,288.80 L677.85,288.30 L677.69,287.80 L677.51,287.30 L677.32,286.80 L677.12,286.30 L676.85,285.80 L676.52,285.30 L676.12,284.80 L675.68,284.30 L675.20,283.80 L674.69,283.30 L674.16,282.80 L673.62,282.30 L673.07,281.80 L672.46,281.30 L671.80,280.80 L671.09,280.30 L670.34,279.80 L669.57,279.30 L668.78,278.80 L667.99,278.30 L667.21,277.80 L666.43,277.30 L665.62,276.80 L664.79,276.30 L663.95,275.80 L663.10,275.30 L662.26,274.80 L661.44,274.30 L660.65,273.80 L659.89,273.30 L659.12,272.80 L658.36,272.30 L657.61,271.80 L656.88,271.30 L656.17,270.80 L655.48,270.30 L654.83,269.80 L654.22,269.30 L653.63,268.80 L653.05,268.30 L652.48,267.80 L651.94,267.30 L651.43,266.80 L650.97,266.30 L650.57,265.80 L650.24,265.30 L649.95,264.80 L649.69,264.30 L649.45,263.80 L649.23,263.30 L649.03,262.80 L648.84,262.30 L648.66,261.80 L648.49,261.30 L648.32,260.80 L648.15,260.30 L648.00,259.80 L647.85,259.30 L647.71,258.80 L647.58,258.30 L647.45,257.80 L647.32,257.30 L647.20,256.80 L647.08,256.30 L646.95,255.80 L646.84,255.30 L646.72,254.80 L646.61,254.30 L646.50,253.80 L646.40,253.30 L646.30,252.80Z" fill="#00BFC4" stroke="#2b2b2b" stroke-width="1.2" stroke-linejoin="round"/>
<g stroke="#2b2b2b" fill="none" stroke-width="1.15">
<rect x="621.1" y="286.4" width="50.4" height="30.4"/>
<line x1="646.3" y1="316.8" x2="646.3" y2="332.0"/>
<line x1="634.3" y1="332.0" x2="658.3" y2="332.0"/>
<line x1="621.1" y1="316.6" x2="671.5" y2="316.6" stroke-width="1.6"/>
<line x1="621.1" y1="310.7" x2="671.5" y2="310.7" stroke-width="2.2" stroke-dasharray="7.1,2.4"/>
</g>
<line x1="521.2" y1="370.2" x2="521.2" y2="375.9" stroke="#9a9a9a" stroke-width="0.8"/>
<text class="ax" style="font-size:10.6px" text-anchor="middle" x="521.2" y="388.3">A</text>
<line x1="646.3" y1="370.2" x2="646.3" y2="375.9" stroke="#9a9a9a" stroke-width="0.8"/>
<text class="ax" style="font-size:10.6px" text-anchor="middle" x="646.3" y="388.3">N</text>
</svg>
</body></html>
